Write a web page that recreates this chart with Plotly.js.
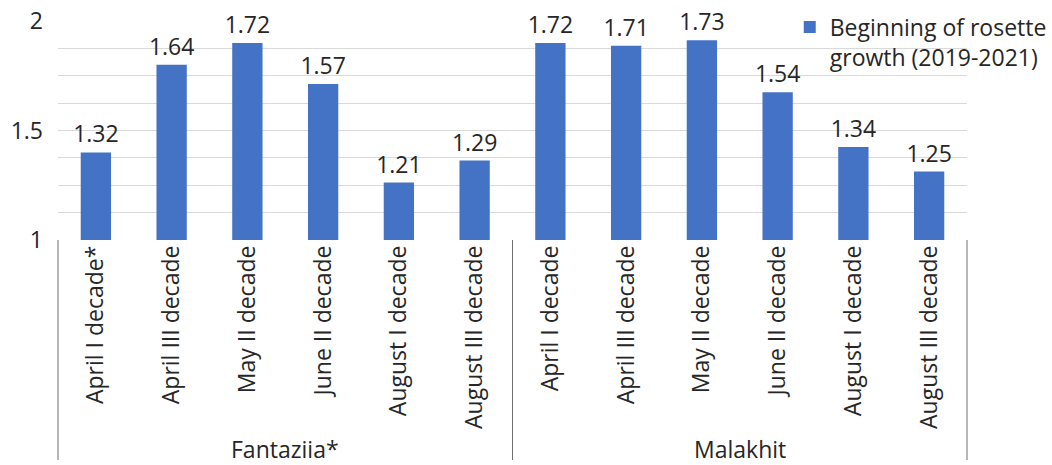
<!DOCTYPE html>
<html>
<head>
<meta charset="utf-8">
<script src="https://cdn.plot.ly/plotly-3.0.1.min.js"></script>
<style>
  html, body { margin: 0; padding: 0; background: #fff; }
  #chart { width: 1052px; height: 465px; }
</style>
</head>
<body>
<div id="chart"></div>
<script>
// Varieties (outer groups) and sowing periods (inner categories)
const varieties = ['Fantaziia*', 'Fantaziia*', 'Fantaziia*', 'Fantaziia*', 'Fantaziia*', 'Fantaziia*',
                   'Malakhit', 'Malakhit', 'Malakhit', 'Malakhit', 'Malakhit', 'Malakhit'];
const periods = ['April I decade*', 'April III decade', 'May II decade', 'June II decade', 'August I decade', 'August III decade',
                 'April I decade', 'April III decade', 'May II decade', 'June II decade', 'August I decade', 'August III decade'];
const rosetteStart = [1.32, 1.64, 1.72, 1.57, 1.21, 1.29, 1.72, 1.71, 1.73, 1.54, 1.34, 1.25];
const seriesName = 'Beginning of rosette<br>growth (2019-2021)';

// Y axis labelling
const yTickVals = [1, 1.4, 1.8];
const yTickText = ['1', '1.5', '2'];

const FONT = 'Open Sans, Noto Sans, sans-serif';
const INK = '#262626';
const FS = 23;

const W = 1052, H = 465;
const M = { l: 58, r: 85, t: 21, b: 225 };
const plotW = W - M.l - M.r;
const plotH = H - M.t - M.b;

// pixel offsets -> paper fractions
const px = x => (x - M.l) / plotW;
const py = y => (H - M.b - y) / plotH;

// one unique category per bar, labelled with its period
const keys = varieties.map((v, i) => v + ' | ' + periods[i]);

// group extents along the category axis
const groups = [];
varieties.forEach((v, i) => {
  const last = groups[groups.length - 1];
  if (last && last.name === v) last.end = i;
  else groups.push({ name: v, start: i, end: i });
});
const n = keys.length;

// group labels under the period labels
const groupAnnotations = groups.map(g => ({
  xref: 'x', yref: 'paper',
  x: (g.start + g.end) / 2,
  y: py(449),
  yanchor: 'middle',
  text: g.name,
  showarrow: false,
  font: { family: FONT, size: FS, color: INK }
}));

// divider lines at the group boundaries
const boundaries = [0].concat(groups.map(g => g.end + 1));
const dividerShapes = boundaries.map(b => ({
  type: 'line',
  xref: 'paper', yref: 'paper',
  x0: b / n, x1: b / n,
  y0: 0, y1: py(460),
  line: { color: '#6e6e6e', width: 1 }
}));

// white patch behind the legend text, above the gridlines but below the bars
const legendPatch = {
  type: 'rect',
  layer: 'between',
  xref: 'paper', yref: 'paper',
  x0: px(810), x1: 1,
  y0: py(62), y1: py(12),
  fillcolor: '#ffffff',
  line: { width: 0 }
};

const trace = {
  type: 'bar',
  x: keys,
  y: rosetteStart,
  name: seriesName,
  marker: { color: '#4472C4' },
  text: rosetteStart.map(v => v.toFixed(2)),
  textposition: 'outside',
  textfont: { family: FONT, size: FS, color: INK },
  constraintext: 'none',
  cliponaxis: false,
  hoverinfo: 'x+y'
};

const layout = {
  width: W,
  height: H,
  margin: Object.assign({ autoexpand: false }, M),
  paper_bgcolor: '#ffffff',
  plot_bgcolor: '#ffffff',
  font: { family: FONT, size: FS, color: INK },
  bargap: 0.6,
  showlegend: true,
  legend: {
    x: 0.805, xanchor: 'left',
    y: 1.07, yanchor: 'top',
    bgcolor: 'rgba(255,255,255,0)',
    valign: 'top',
    font: { family: FONT, size: FS, color: INK },
    itemclick: false
  },
  xaxis: {
    type: 'category',
    categoryorder: 'array',
    categoryarray: keys,
    tickmode: 'array',
    tickvals: keys,
    ticktext: periods,
    tickangle: -90,
    tickfont: { family: FONT, size: FS, color: INK },
    showgrid: false,
    zeroline: false,
    showline: false,
    ticks: ''
  },
  yaxis: {
    range: [1, 1.8],
    tickvals: yTickVals,
    ticktext: yTickText,
    tickfont: { family: FONT, size: FS, color: INK },
    ticks: '',
    ticklabelstandoff: 14,
    showgrid: true,
    gridcolor: '#d9d9d9',
    gridwidth: 1,
    minor: { dtick: 0.1, showgrid: true, gridcolor: '#d9d9d9', gridwidth: 1 },
    zeroline: false,
    showline: false
  },
  annotations: groupAnnotations,
  shapes: dividerShapes.concat([legendPatch])
};

Plotly.newPlot('chart', [trace], layout, { displayModeBar: false, staticPlot: true });
</script>
</body>
</html>
